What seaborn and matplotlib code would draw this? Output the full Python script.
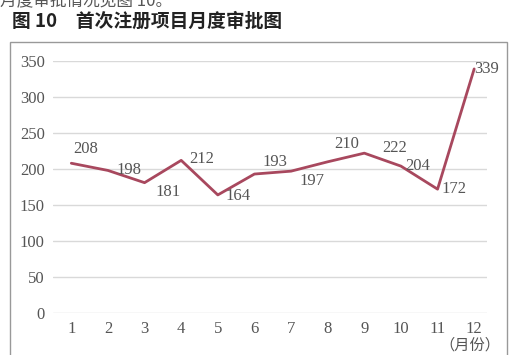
import pandas as pd
import numpy as np
import seaborn as sns
import matplotlib.pyplot as plt
from matplotlib.patches import Rectangle

# data
months = [1, 2, 3, 4, 5, 6, 7, 8, 9, 10, 11, 12]
approvals = [208, 198, 181, 212, 164, 193, 197, 210, 222, 204, 172, 339]
yticks = [0, 50, 100, 150, 200, 250, 300, 350]
# label offsets from each point, in pixels (x right, y up)
label_dx = [14, 21, 23, 21, 20, 20, 21, 19, 30, 17, 16, 12]
label_dy = [14, 0, -9, 1, -1, 12, -10, 18, 5, 0, 0, 0]

df = pd.DataFrame({'Month': months, 'Approvals': approvals})

sns.set_style('white')
plt.rcParams['font.family'] = ['Noto Sans CJK SC', 'DejaVu Sans']

num_font = 'Liberation Serif'
grey = '#555555'
line_col = '#A8485E'

fig = plt.figure(figsize=(5.09, 3.55), dpi=100)
ax = fig.add_axes([53 / 509, 1 - 313 / 355, 434 / 509, 252 / 355])

sns.lineplot(x='Month', y='Approvals', data=df, ax=ax, color=line_col, linewidth=2)

for m, v, dx, dy in zip(months, approvals, label_dx, label_dy):
    ax.annotate(str(v), (m, v), xytext=(dx, dy), textcoords='offset pixels',
                ha='center', va='center', fontsize=12, color=grey,
                family=num_font)

ax.set_ylim(0, 350)
ax.set_xlim(0.5, 12.35)
ax.set_yticks(yticks)
ax.set_xticks(months)
ax.set_xticklabels([str(m) for m in months], family=num_font, fontsize=12, color=grey)
ax.set_yticklabels([str(t) for t in yticks], family=num_font, fontsize=12, color=grey)
ax.tick_params(length=0, pad=6)
ax.grid(axis='y', color='#d9d9d9', linewidth=1)
ax.set_axisbelow(True)
for s in ax.spines.values():
    s.set_visible(False)
ax.set_xlabel('')
ax.set_ylabel('')

# outer frame around the chart
fig.patches.append(Rectangle((10 / 509, -0.1), 497 / 509, 1 - 42 / 355 + 0.1,
                             transform=fig.transFigure, fill=False,
                             edgecolor='#999999', linewidth=1))

fig.text(470 / 509, 1 - 345 / 355, '（月份）', ha='center', va='center',
         fontsize=11, color=grey)
fig.text(12 / 509, 1 - 21 / 355, '图 10　首次注册项目月度审批图', ha='left',
         va='center', fontsize=13.5, color='#222222', fontweight='bold')
# tail of the preceding paragraph, cut off at the top edge
fig.text(0, 1 - 5 / 355, '月度审批情况见图 10。', ha='left', va='baseline',
         fontsize=12, color='#555555')

fig.savefig('out.png', dpi=100)
